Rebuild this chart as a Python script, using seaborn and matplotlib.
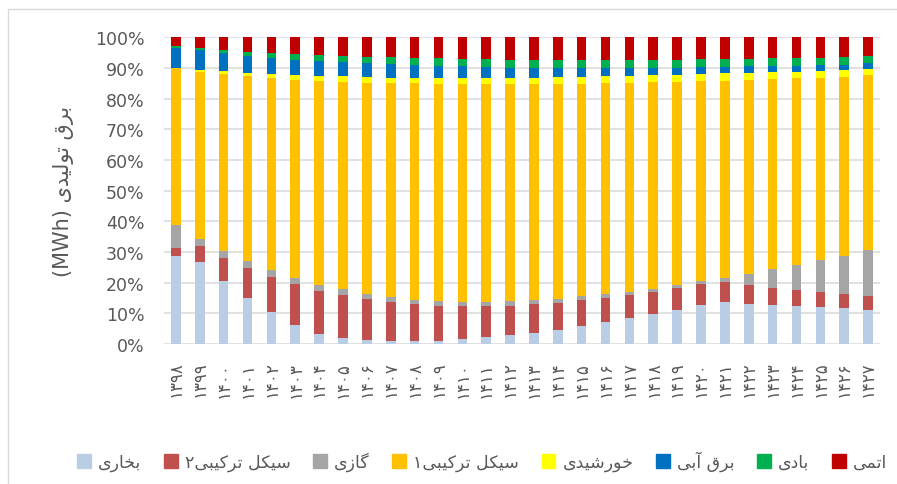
import re
import numpy as np
import pandas as pd
import matplotlib
matplotlib.use("Agg")
import matplotlib.pyplot as plt
import matplotlib.patches as mpatches
from matplotlib.ticker import PercentFormatter
import seaborn as sns

# Share of generated electricity by source (%)
years = list(range(1398, 1428))
steam = [28.6, 26.6, 20.4, 15.0, 10.3, 6.3, 3.2, 2.1, 1.4, 1.1, 1.0, 1.1, 1.6, 2.2, 2.8,
         3.7, 4.7, 5.9, 7.1, 8.4, 9.8, 11.2, 12.8, 13.6, 13.2, 12.8, 12.5, 12.0, 11.6, 11.2]
combined2 = [2.8, 5.5, 7.8, 9.9, 11.7, 13.3, 14.2, 13.9, 13.4, 12.5, 12.0, 11.4, 10.9, 10.3, 9.7,
             9.3, 8.8, 8.3, 8.0, 7.7, 7.3, 7.1, 6.7, 6.5, 6.0, 5.6, 5.2, 5.1, 4.8, 4.6]
gas = [7.5, 2.2, 2.2, 2.1, 2.0, 1.9, 1.9, 1.8, 1.6, 1.8, 1.5, 1.5, 1.3, 1.3, 1.4,
       1.2, 1.3, 1.3, 1.1, 1.0, 0.9, 0.9, 0.9, 1.5, 3.6, 6.1, 8.1, 10.2, 12.3, 14.7]
combined1 = [51.0, 54.5, 57.5, 60.4, 62.8, 64.7, 66.6, 67.7, 68.8, 69.7, 70.5, 70.9, 71.0, 71.0, 70.9,
             70.6, 70.1, 69.4, 68.9, 68.1, 67.3, 66.3, 65.4, 64.3, 63.4, 62.0, 60.8, 59.5, 58.5, 57.3]
solar = [0.2, 0.5, 1.0, 1.1, 1.2, 1.6, 1.5, 1.8, 1.8, 1.7, 1.8, 1.9, 1.9, 1.9, 2.0,
         1.9, 2.1, 2.2, 2.2, 2.2, 2.3, 2.3, 2.2, 2.3, 2.3, 2.2, 2.2, 2.2, 2.1, 2.0]
hydro = [6.3, 6.4, 5.9, 5.5, 5.4, 4.9, 4.9, 4.5, 4.5, 4.4, 4.1, 3.9, 3.8, 3.5, 3.3,
         3.3, 3.0, 2.9, 2.7, 2.5, 2.4, 2.3, 2.2, 2.2, 2.0, 2.0, 1.9, 1.9, 1.8, 1.7]
wind = [0.7, 0.7, 1.1, 1.3, 1.5, 1.9, 1.9, 2.1, 2.2, 2.3, 2.4, 2.5, 2.4, 2.6, 2.6,
        2.6, 2.6, 2.6, 2.6, 2.7, 2.6, 2.6, 2.6, 2.5, 2.5, 2.5, 2.6, 2.5, 2.4, 2.3]
nuclear = [2.9, 3.6, 4.1, 4.7, 5.1, 5.4, 5.8, 6.1, 6.3, 6.5, 6.7, 6.8, 7.1, 7.2, 7.3,
           7.4, 7.4, 7.4, 7.4, 7.4, 7.4, 7.3, 7.2, 7.1, 7.0, 6.8, 6.7, 6.6, 6.5, 6.2]

# bottom -> top of the stack
series_names = ["بخاری", "سیکل ترکیبی۲", "گازی", "سیکل ترکیبی۱",
                "خورشیدی", "برق آبی", "بادی", "اتمی"]
series_values = [steam, combined2, gas, combined1, solar, hydro, wind, nuclear]
series_colors = ["#B9CDE5", "#C0504D", "#A5A5A5", "#FFC000",
                 "#FFFF00", "#0070C0", "#00B050", "#C00000"]
y_label = "برق تولیدی (MWh)"

# matplotlib has no Arabic shaping, so map letters to presentation forms by hand
FORMS = {
    "ا": ("\uFE8D", "\uFE8E"), "آ": ("\uFE81", "\uFE82"),
    "د": ("\uFEA9", "\uFEAA"), "ر": ("\uFEAD", "\uFEAE"),
    "ز": ("\uFEAF", "\uFEB0"), "و": ("\uFEED", "\uFEEE"),
    "ب": ("\uFE8F", "\uFE90", "\uFE91", "\uFE92"),
    "ت": ("\uFE95", "\uFE96", "\uFE97", "\uFE98"),
    "خ": ("\uFEA5", "\uFEA6", "\uFEA7", "\uFEA8"),
    "س": ("\uFEB1", "\uFEB2", "\uFEB3", "\uFEB4"),
    "ش": ("\uFEB5", "\uFEB6", "\uFEB7", "\uFEB8"),
    "ق": ("\uFED5", "\uFED6", "\uFED7", "\uFED8"),
    "ل": ("\uFEDD", "\uFEDE", "\uFEDF", "\uFEE0"),
    "م": ("\uFEE1", "\uFEE2", "\uFEE3", "\uFEE4"),
    "ی": ("\uFBFC", "\uFBFD", "\uFBFE", "\uFBFF"),
    "ک": ("\uFB8E", "\uFB8F", "\uFB90", "\uFB91"),
    "گ": ("\uFB92", "\uFB93", "\uFB94", "\uFB95"),
}


def fa(text):
    out = []
    for i, ch in enumerate(text):
        if ch not in FORMS:
            out.append(ch)
            continue
        prev = text[i - 1] if i > 0 else ""
        nxt = text[i + 1] if i + 1 < len(text) else ""
        join_prev = prev in FORMS and len(FORMS[prev]) == 4
        join_next = len(FORMS[ch]) == 4 and nxt in FORMS
        f = FORMS[ch]
        if join_prev and join_next:
            out.append(f[3])
        elif join_prev:
            out.append(f[1])
        elif join_next:
            out.append(f[2])
        else:
            out.append(f[0])
    vis = "".join(out)[::-1].translate(str.maketrans("()", ")("))
    # left-to-right runs keep their own order
    return re.sub(r"[A-Za-z0-9\u06F0-\u06F9]+", lambda m: m.group(0)[::-1], vis)


fa_digits = str.maketrans("0123456789", "۰۱۲۳۴۵۶۷۸۹")
year_labels = [str(y).translate(fa_digits) for y in years]

df = pd.DataFrame(dict(zip(series_names, series_values)), index=year_labels)
df = df.div(df.sum(axis=1), axis=0)
cum = df.cumsum(axis=1)

sns.set_theme(style="white")
plt.rcParams["font.family"] = ["DejaVu Sans"]
text_color = "#595959"

fig = plt.figure(figsize=(8.97, 4.85), dpi=100)
ax = fig.add_axes([164 / 897, 1 - 345 / 485, (880 - 164) / 897, (345 - 38.3) / 485])

# stacked bars: draw cumulative totals from the top layer down
for name, color in reversed(list(zip(series_names, series_colors))):
    sns.barplot(x=year_labels, y=cum[name].values, order=year_labels, color=color,
                saturation=1, width=0.4, linewidth=0, ax=ax)

ax.set_ylim(0, 1)
ax.set_xlim(-0.5, len(years) - 0.5)
ax.set_yticks(np.arange(0, 1.01, 0.1))
ax.yaxis.set_major_formatter(PercentFormatter(1.0, decimals=0))
ax.yaxis.grid(True, color="#D9D9D9", linewidth=1.1)
ax.set_axisbelow(True)
for s in ax.spines.values():
    s.set_visible(False)
ax.tick_params(axis="y", length=0, pad=14, labelsize=12.5, labelcolor=text_color)
ax.tick_params(axis="x", length=0, pad=12, labelsize=12, labelcolor=text_color)
plt.setp(ax.get_xticklabels(), rotation=90)
ax.set_xlabel("")
ax.set_ylabel("")

fig.text(63 / 897, 1 - 191 / 485, fa(y_label), rotation=90, ha="center", va="center",
         fontsize=15, color=text_color)

handles = [mpatches.Patch(color=c, label=fa(n)) for n, c in zip(series_names, series_colors)]
fig.legend(handles=handles, loc="center", bbox_to_anchor=(482 / 897, 1 - 462 / 485), ncol=8,
           frameon=False, fontsize=12.5, labelcolor=text_color, handlelength=0.8,
           handleheight=0.8, handletextpad=0.4, columnspacing=1.3)

# chart-area border (left and top edges are visible in the crop)
fig.patches.append(mpatches.Rectangle((8 / 897, -0.1), 1.2, 1.1 - 10 / 485, fill=False,
                                      edgecolor="#D9D9D9", linewidth=1.0,
                                      transform=fig.transFigure, figure=fig))

fig.savefig("out.png", dpi=100)
